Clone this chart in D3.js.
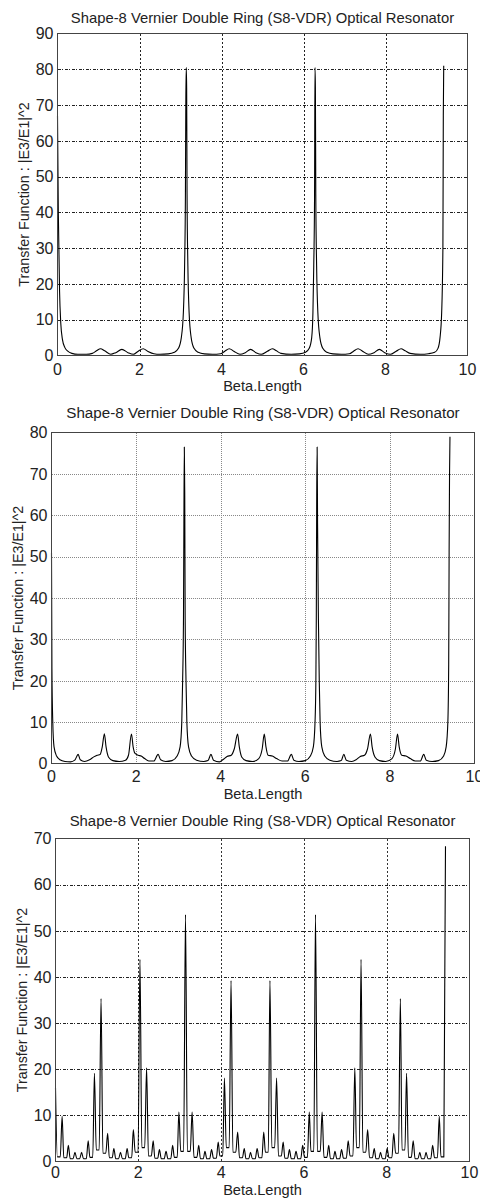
<!DOCTYPE html>
<html>
<head>
<meta charset="utf-8">
<script src="https://cdn.jsdelivr.net/npm/d3@7"></script>
<style>
  body { margin: 0; background: #fff; }
  svg { display: block; font-family: "Liberation Sans", Arial, sans-serif; }
</style>
</head>
<body>
<div id="chart"></div>
<script>
// ======================================
// Data
// ======================================
var titleText = "Shape-8 Vernier Double Ring (S8-VDR) Optical Resonator";
var xLabelText = "Beta.Length";
var yLabelText = "Transfer Function : |E3/E1|^2";

var xTicks = [0, 2, 4, 6, 8, 10];
var yTicks1 = [0, 10, 20, 30, 40, 50, 60, 70, 80, 90];
var yTicks2 = [0, 10, 20, 30, 40, 50, 60, 70, 80];
var yTicks3 = [0, 10, 20, 30, 40, 50, 60, 70];

// panel 1 : four main resonances with three small ripples between each
var p1X = [0.00, 0.02, 0.05, 0.08, 0.12, 0.18, 0.25, 0.35, 0.50, 0.70, 0.85, 0.95, 1.05, 1.15, 1.30,
  1.42, 1.57, 1.72, 1.85, 1.97, 2.09, 2.20, 2.35, 2.50, 2.70, 2.85, 2.95, 3.02, 3.07, 3.10, 3.12,
  3.13, 3.14, 3.15, 3.16, 3.18, 3.21, 3.26, 3.33, 3.43, 3.58, 3.78, 3.98, 4.08, 4.19, 4.30, 4.45,
  4.58, 4.71, 4.84, 4.97, 5.12, 5.24, 5.34, 5.45, 5.70, 5.90, 6.05, 6.14, 6.20, 6.23, 6.25, 6.27,
  6.28, 6.29, 6.30, 6.32, 6.35, 6.40, 6.47, 6.57, 6.72, 6.92, 7.12, 7.22, 7.33, 7.44, 7.58, 7.72,
  7.85, 7.98, 8.12, 8.26, 8.38, 8.48, 8.60, 8.85, 9.05, 9.20, 9.28, 9.33, 9.37, 9.40, 9.41, 9.42];
var p1Y = [67, 40, 18, 9, 4.5, 2.2, 1.2, 0.6, 0.35, 0.35, 0.6, 1.3, 1.9, 1.3, 0.35,
  0.8, 1.7, 0.8, 0.35, 1.2, 1.9, 1.2, 0.5, 0.35, 0.45, 0.9, 2, 5, 12, 25, 45,
  71, 80.5, 75, 45, 25, 12, 5, 2, 0.9, 0.45, 0.35, 0.5, 1.2, 1.9, 1.2, 0.35,
  0.8, 1.7, 0.8, 0.35, 1.2, 1.9, 1.3, 0.6, 0.35, 0.45, 0.9, 2, 5, 12, 25, 45,
  80.5, 75, 45, 25, 12, 5, 2, 0.9, 0.45, 0.35, 0.5, 1.2, 1.9, 1.2, 0.35, 0.8,
  1.7, 0.8, 0.35, 1.2, 1.9, 1.3, 0.6, 0.35, 0.5, 0.9, 2, 5, 12, 30, 67, 81];

// panel 2 : main resonances with side peaks near 2 and 7
var p2X = [0.00, 0.01, 0.03, 0.06, 0.12, 0.20, 0.32, 0.45, 0.55, 0.63, 0.68, 0.78, 0.90, 1.00, 1.08,
  1.15, 1.20, 1.25, 1.29, 1.35, 1.45, 1.60, 1.75, 1.82, 1.89, 1.93, 1.97, 2.05, 2.12, 2.20, 2.30,
  2.42, 2.52, 2.58, 2.70, 2.85, 2.97, 3.04, 3.08, 3.10, 3.12, 3.13, 3.14, 3.15, 3.16, 3.18, 3.20,
  3.24, 3.31, 3.43, 3.60, 3.70, 3.77, 3.83, 3.97, 4.05, 4.15, 4.25, 4.32, 4.40, 4.44, 4.50, 4.60,
  4.75, 4.90, 4.98, 5.03, 5.07, 5.12, 5.22, 5.32, 5.45, 5.58, 5.67, 5.73, 5.85, 6.00, 6.12, 6.19,
  6.23, 6.25, 6.26, 6.27, 6.28, 6.29, 6.31, 6.33, 6.35, 6.39, 6.46, 6.58, 6.75, 6.85, 6.91, 6.97,
  7.10, 7.20, 7.30, 7.40, 7.47, 7.54, 7.58, 7.65, 7.75, 7.90, 8.05, 8.13, 8.18, 8.22, 8.28, 8.38,
  8.48, 8.60, 8.72, 8.80, 8.86, 9.00, 9.15, 9.27, 9.33, 9.37, 9.39, 9.40, 9.41, 9.42];
var p2Y = [51, 23, 10, 4, 1.8, 0.9, 0.5, 0.4, 0.8, 2.2, 0.9, 0.5, 0.9, 1.6, 2,
  2.2, 4, 7.2, 4, 1.5, 0.7, 0.5, 0.8, 2, 7.1, 4, 2.5, 2, 1.8, 1.2, 0.6,
  0.6, 2.2, 0.9, 0.5, 0.7, 1.8, 4, 10, 20, 35, 58, 76.5, 65, 35, 20, 10,
  4, 1.8, 0.8, 0.5, 0.7, 2.2, 0.8, 0.4, 0.9, 1.7, 2, 3.5, 7.1, 4, 1.5, 0.7,
  0.5, 1.2, 3.5, 7.1, 4, 2, 1.8, 1.2, 0.6, 0.6, 2.2, 0.8, 0.5, 0.7, 1.8, 4,
  10, 20, 35, 65, 76.5, 58, 35, 20, 10, 4, 1.8, 0.8, 0.5, 0.7, 2.2, 0.8,
  0.5, 0.9, 1.7, 2, 3.5, 7.1, 4, 1.5, 0.7, 0.5, 1.2, 3.5, 7.1, 4, 2, 1.8,
  1.2, 0.6, 0.6, 2.2, 0.8, 0.5, 0.7, 1.8, 4, 10, 24, 51, 70, 79];

// panel 3 : comb of narrow spikes, their positions, tops and the troughs between them
var p3PeakX = [0.00, 0.16, 0.31, 0.47, 0.63, 0.79, 0.94, 1.10, 1.26, 1.41, 1.57, 1.73, 1.88, 2.04,
  2.20, 2.36, 2.51, 2.67, 2.83, 2.98, 3.14, 3.30, 3.46, 3.61, 3.77, 3.93, 4.08, 4.24, 4.40, 4.56,
  4.71, 4.87, 5.03, 5.18, 5.34, 5.50, 5.65, 5.81, 5.97, 6.13, 6.28, 6.44, 6.60, 6.75, 6.91, 7.07,
  7.23, 7.38, 7.54, 7.70, 7.85, 8.01, 8.17, 8.33, 8.48, 8.64, 8.80, 8.95, 9.11, 9.27, 9.42];
var p3PeakY = [16, 9.8, 3.5, 2.0, 2.0, 4.5, 19.1, 35.3, 6.1, 2.8, 2.0, 2.8, 6.9, 43.8,
  20.3, 4.5, 2.6, 2.2, 3.5, 10.7, 53.5, 10.7, 3.5, 2.2, 2.6, 4.2, 18.1, 39.2, 6.4, 2.8,
  2.0, 2.8, 6.4, 39.2, 18.1, 4.2, 2.6, 2.2, 3.5, 10.7, 53.5, 10.7, 3.5, 2.2, 2.6, 4.5,
  20.3, 43.8, 6.9, 2.8, 2.0, 2.8, 6.1, 35.3, 19.1, 4.5, 2.0, 2.0, 3.5, 9.8, 68.3];
var p3TroughY = [1.0, 0.8, 0.6, 0.6, 0.6, 0.9, 2.5, 1.8, 0.8, 0.6, 0.6, 0.8, 2.0, 3.0, 1.2,
  0.7, 0.6, 0.6, 0.9, 2.2, 2.2, 0.9, 0.6, 0.6, 0.7, 1.2, 3.0, 2.0, 0.8, 0.6, 0.6, 0.8,
  2.0, 3.0, 1.2, 0.7, 0.6, 0.6, 0.9, 2.2, 2.2, 0.9, 0.6, 0.6, 0.7, 1.2, 3.0, 2.0, 0.8,
  0.6, 0.6, 0.8, 1.8, 2.5, 0.9, 0.6, 0.6, 0.6, 0.8, 1.0];

// ======================================
// Build the point lists
// ======================================
function zipXY(xs, ys) {
  return xs.map(function(x, i) { return [x, ys[i]]; });
}

// each trough is drawn as a short flat floor so the spikes stay narrow
var troughHalfWidth = 0.035;
var p3Points = [];
p3PeakX.forEach(function(x, i) {
  p3Points.push([x, p3PeakY[i]]);
  if (i < p3PeakX.length - 1) {
    var mid = (x + p3PeakX[i + 1]) / 2;
    p3Points.push([mid - troughHalfWidth, p3TroughY[i]]);
    p3Points.push([mid + troughHalfWidth, p3TroughY[i]]);
  }
});

// ======================================
// Panels: position and grid style
// ======================================
var svgWidth = 480;
var svgHeight = 1203;

var panels = [
  {
    points: zipXY(p1X, p1Y), curve: d3.curveMonotoneX, yTicks: yTicks1,
    left: 57.5, right: 467.5, top: 33.5, bottom: 355.5,
    titleY: 23, titleSize: 14.8, tickY: 375, xLabelY: 391, yLabelX: 24,
    hGrid: { color: "#222", dash: "3,1.5,1,1.5" }, vGrid: { color: "#222", dash: "2,2" }
  },
  {
    points: zipXY(p2X, p2Y), curve: d3.curveMonotoneX, yTicks: yTicks2,
    left: 51.5, right: 474.5, top: 432.5, bottom: 763.5,
    titleY: 418, titleSize: 15.2, tickY: 782, xLabelY: 799, yLabelX: 18,
    hGrid: { color: "#888", dash: "1,1" }, vGrid: { color: "#888", dash: "1,1" }
  },
  {
    points: p3Points, curve: d3.curveMonotoneX, yTicks: yTicks3,
    left: 55.5, right: 469.5, top: 838.5, bottom: 1161.5,
    titleY: 826, titleSize: 14.9, tickY: 1178, xLabelY: 1195, yLabelX: 22,
    hGrid: { color: "#222", dash: "3,1.5,1,1.5" }, vGrid: { color: "#333", dash: "2,2" }
  }
];

var svg = d3.select("#chart")
  .append("svg")
  .attr("width", svgWidth)
  .attr("height", svgHeight);

function drawPanel(p) {
  var g = svg.append("g");
  var yMax = p.yTicks[p.yTicks.length - 1];

  var xScale = d3.scaleLinear().domain([0, 10]).range([p.left, p.right]);
  var yScale = d3.scaleLinear().domain([0, yMax]).range([p.bottom, p.top]);

  // grid lines
  g.append("g")
    .selectAll("line")
    .data(p.yTicks.slice(1, -1))
    .enter()
    .append("line")
    .attr("x1", p.left).attr("x2", p.right)
    .attr("y1", d => Math.round(yScale(d)) + 0.5)
    .attr("y2", d => Math.round(yScale(d)) + 0.5)
    .attr("stroke", p.hGrid.color)
    .attr("stroke-dasharray", p.hGrid.dash)
    .attr("shape-rendering", "crispEdges");

  g.append("g")
    .selectAll("line")
    .data(xTicks.slice(1, -1))
    .enter()
    .append("line")
    .attr("x1", d => Math.round(xScale(d)) + 0.5)
    .attr("x2", d => Math.round(xScale(d)) + 0.5)
    .attr("y1", p.top).attr("y2", p.bottom)
    .attr("stroke", p.vGrid.color)
    .attr("stroke-dasharray", p.vGrid.dash)
    .attr("shape-rendering", "crispEdges");

  // the curve
  var line = d3.line()
    .x(d => xScale(d[0]))
    .y(d => yScale(d[1]))
    .curve(p.curve);

  g.append("path")
    .datum(p.points)
    .attr("d", line)
    .attr("fill", "none")
    .attr("stroke", "#000")
    .attr("stroke-width", 1.1)
    .attr("stroke-linejoin", "round");

  // frame
  g.append("rect")
    .attr("x", p.left).attr("y", p.top)
    .attr("width", p.right - p.left).attr("height", p.bottom - p.top)
    .attr("fill", "none")
    .attr("stroke", "#444")
    .attr("shape-rendering", "crispEdges");

  // tick labels
  g.append("g")
    .selectAll("text")
    .data(p.yTicks)
    .enter()
    .append("text")
    .attr("x", p.left - 4)
    .attr("y", d => yScale(d))
    .attr("dy", "0.36em")
    .attr("text-anchor", "end")
    .attr("font-size", 16)
    .attr("fill", "#222")
    .text(d => d);

  g.append("g")
    .selectAll("text")
    .data(xTicks)
    .enter()
    .append("text")
    .attr("x", d => xScale(d))
    .attr("y", p.tickY)
    .attr("text-anchor", "middle")
    .attr("font-size", 16)
    .attr("fill", "#222")
    .text(d => d);

  // title and axis labels
  var midX = (p.left + p.right) / 2;
  g.append("text")
    .attr("x", midX)
    .attr("y", p.titleY)
    .attr("text-anchor", "middle")
    .attr("font-size", p.titleSize)
    .attr("fill", "#222")
    .text(titleText);

  g.append("text")
    .attr("x", midX)
    .attr("y", p.xLabelY)
    .attr("text-anchor", "middle")
    .attr("font-size", 14.6)
    .attr("fill", "#222")
    .text(xLabelText);

  g.append("text")
    .attr("transform", `translate(${p.yLabelX}, ${(p.top + p.bottom) / 2}) rotate(-90)`)
    .attr("text-anchor", "middle")
    .attr("dy", "0.36em")
    .attr("font-size", 14.3)
    .attr("fill", "#222")
    .text(yLabelText);
}

panels.forEach(drawPanel);
</script>
</body>
</html>
